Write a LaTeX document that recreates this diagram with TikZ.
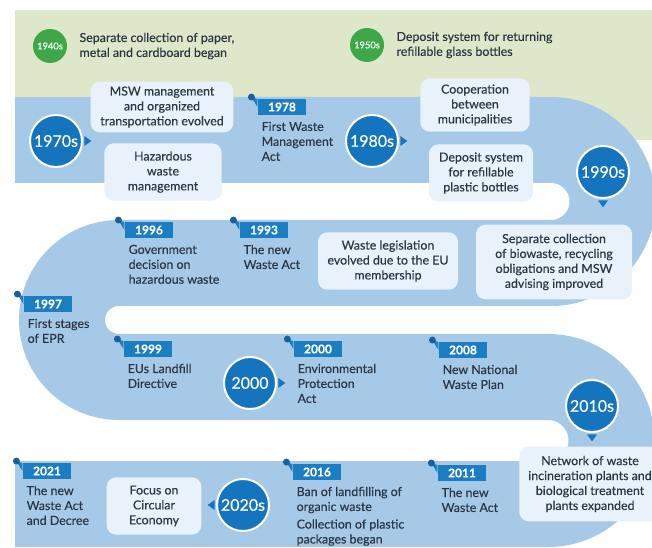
\documentclass[tikz,border=0pt]{standalone}
\usepackage{fontspec}
\setmainfont{Lato}[FakeBold=0.3]
\usetikzlibrary{positioning}

\definecolor{sage}{RGB}{222,231,201}
\definecolor{bandblue}{RGB}{166,201,232}
\definecolor{paleblue}{RGB}{233,241,250}
\definecolor{decadeblue}{RGB}{20,117,190}
\definecolor{tagblue}{RGB}{28,126,194}
\definecolor{dotblue}{RGB}{22,96,156}
\definecolor{earlygreen}{RGB}{62,168,72}
\definecolor{ink}{RGB}{42,54,68}

\begin{document}
\begin{tikzpicture}[x=0.75pt, y=-0.75pt,
    decade/.style={circle, fill=decadeblue, draw=white, line width=1.5pt,
        minimum size=39pt, inner sep=0pt, text=white,
        font=\fontsize{12}{14}\selectfont},
    early/.style={circle, fill=earlygreen, minimum size=25.5pt, inner sep=0pt,
        text=white, font=\fontsize{7}{8}\selectfont},
    yeartag/.style={fill=tagblue, text=white, minimum width=36.5pt,
        minimum height=11.5pt, inner sep=0pt,
        font=\bfseries\fontsize{9}{10}\selectfont},
    note/.style={text=ink, align=left, inner sep=0pt,
        font=\fontsize{9.3}{11.2}\selectfont},
    bubble/.style={fill=paleblue, rounded corners=7pt, text=ink, align=center,
        inner sep=2pt, font=\fontsize{9.3}{11.2}\selectfont},
]
\useasboundingbox (0,0) rectangle (652,548);

\fill[sage] (15,10) rectangle (652,140);
\draw[bandblue, line width=64.5pt]
    (15,140) [rounded corners=46.1pt] -- (612.5,140) -- (612.5,263) -- (330,263)
    [rounded corners=42.7pt] -- (62,263) -- (62,377) -- (330,377)
    [rounded corners=47.6pt] -- (611.5,377) -- (611.5,504) -- (330,504) -- (15,504);

\node[early] (g40) at (50,46) {1940s};
\node[note, right=9pt of g40] (e40) {Separate collection of paper,\\metal and cardboard began};
\node[early] (g50) at (367,45) {1950s};
\node[note, right=9pt of g50] (e50) {Deposit system for returning\\refillable glass bottles};

\node[decade] (c70) at (56,141) {1970s};
\node[bubble, minimum width=107pt, minimum height=38pt] (b70a) at (162,107) {MSW management\\and organized\\transportation evolved};
\node[bubble, minimum width=88pt, minimum height=43pt] (b70b) at (163,172) {Hazardous\\waste\\management};
\node[yeartag] (t78) at (282,107) {1978};
\node[note, below right=5pt and 3pt of t78.south west] (n78) {First Waste\\Management\\Act};
\node[decade] (c80) at (372,141) {1980s};
\node[bubble, minimum width=82pt, minimum height=40pt] (b80a) at (475,105) {Cooperation\\between\\municipalities};
\node[bubble, minimum width=78pt, minimum height=43pt] (b80b) at (481,173) {Deposit system\\for refillable\\plastic bottles};
\node[decade] (c90) at (603,172) {1990s};

\node[bubble, minimum width=117pt, minimum height=56pt] (b90a) at (554,262) {Separate collection\\of biowaste, recycling\\obligations and MSW\\advising improved};
\node[bubble, minimum width=105pt, minimum height=43pt] (b90b) at (388,261) {Waste legislation\\evolved due to the EU\\membership};
\node[yeartag] (t93) at (264,230) {1993};
\node[note, below right=5pt and 3pt of t93.south west] (n93) {The new\\Waste Act};
\node[yeartag] (t96) at (149,230) {1996};
\node[note, below right=5pt and 3pt of t96.south west] (n96) {Government\\decision on\\hazardous waste};
\node[yeartag] (t97) at (48,304) {1997};
\node[note, below right=5pt and 3pt of t97.south west] (n97) {First stages\\of EPR};

\node[yeartag] (t99) at (148,349) {1999};
\node[note, below right=5pt and 3pt of t99.south west] (n99) {EUs Landfill\\Directive};
\node[decade] (c00) at (250,383) {2000};
\node[yeartag] (t00) at (318,349) {2000};
\node[note, below right=5pt and 3pt of t00.south west] (n00) {Environmental\\Protection\\Act};
\node[yeartag] (t08) at (463,350) {2008};
\node[note, below right=5pt and 3pt of t08.south west] (n08) {New National\\Waste Plan};
\node[decade] (c10) at (592,406) {2010s};
\node[bubble, minimum width=106pt, minimum height=56pt] (b10) at (590,484) {Network of waste\\incineration plants and\\biological treatment\\plants expanded};

\node[yeartag] (t11) at (462,473) {2011};
\node[note, below right=5pt and 3pt of t11.south west] (n11) {The new\\Waste Act};
\node[yeartag] (t16) at (317,472) {2016};
\node[note, below right=5pt and 3pt of t16.south west] (n16) {Ban of landfilling of\\organic waste\\[2pt]Collection of plastic\\packages began};
\node[decade] (c20) at (243,505) {2020s};
\node[bubble, minimum width=71pt, minimum height=43pt] (b20) at (154,506) {Focus on\\Circular\\Economy};
\node[yeartag] (t21) at (47,471) {2021};
\node[note, below right=5pt and 3pt of t21.south west] (n21) {The new\\Waste Act\\and Decree};

\foreach \c in {c70,c80,c00}
    \fill[decadeblue] ([xshift=1pt]\c.east) ++(0,-5) -- ++(7,5) -- ++(-7,5) -- cycle;
\foreach \c in {c90,c10}
    \fill[decadeblue] ([yshift=-1pt]\c.south) ++(-5,0) -- ++(5,7) -- ++(5,-7) -- cycle;
\fill[decadeblue] ([xshift=-1pt]c20.west) ++(0,-5) -- ++(-7,5) -- ++(7,5) -- cycle;

\foreach \t in {t78,t93,t96,t97,t99,t00,t08,t11,t16,t21} {
    \fill[tagblue] ([xshift=-4.5pt,yshift=1.5pt]\t.north west) -- (\t.north west) -- (\t.west) -- cycle;
    \fill[dotblue] ([xshift=-4.5pt,yshift=1.5pt]\t.north west) circle[radius=2.6pt];
}
\end{tikzpicture}
\end{document}
